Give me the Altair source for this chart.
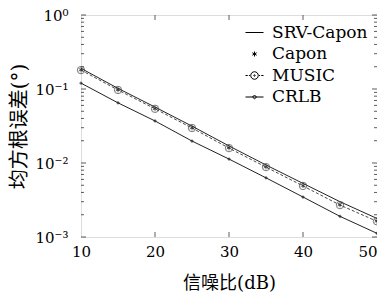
import altair as alt
import pandas as pd

snr = [10, 15, 20, 25, 30, 35, 40, 45, 50]
srv_capon = [0.19, 0.102, 0.057, 0.0315, 0.0170, 0.0094, 0.0053, 0.0030, 0.00178]
capon = [0.182, 0.098, 0.0545, 0.0300, 0.0161, 0.0089, 0.0050, 0.00275, 0.00165]
music = [0.180, 0.097, 0.054, 0.0297, 0.0159, 0.0088, 0.0049, 0.0027, 0.00163]
crlb = [0.120, 0.065, 0.037, 0.0198, 0.0113, 0.0063, 0.00347, 0.0019, 0.00112]
series = ["SRV-Capon", "Capon", "MUSIC", "CRLB"]
y_ticks = [0.001, 0.01, 0.1, 1]
x_ticks = [10, 20, 30, 40, 50]

W, H = 296, 222
SERIF = "DejaVu Serif"
CJK = "DejaVu Serif, Noto Sans CJK SC"

rows = []
for name, vals in zip(series, [srv_capon, capon, music, crlb]):
    for s, v in zip(snr, vals):
        rows.append({"snr": s, "rmse": v, "series": name})
df = pd.DataFrame(rows)

xs = alt.Scale(domain=[10, 50], nice=False, zero=False)
ys = alt.Scale(type="log", domain=[0.001, 1], nice=False)

x_axis = alt.Axis(
    title="信噪比(dB)", values=x_ticks, ticks=False, domain=False, grid=False,
    labelPadding=7, titlePadding=15, labelFont=SERIF, labelFontSize=15,
    titleFont=CJK, titleFontSize=18, titleFontWeight="normal",
    labelColor="black", titleColor="black", labelFlush=False, labelBound=False,
    labelAlign={"condition": {"test": "datum.value >= 50", "value": "right"}, "value": "center"})
y_axis = alt.Axis(
    title="均方根误差(°)", values=y_ticks, ticks=False, domain=False, grid=False,
    labelExpr="datum.value >= 1 ? '10⁰' : datum.value >= 0.1 ? '10⁻¹' : datum.value >= 0.01 ? '10⁻²' : '10⁻³'",
    labelPadding=13, titlePadding=5, labelFont=SERIF, labelFontSize=15,
    titleFont=CJK, titleFontSize=20, titleFontWeight="normal",
    labelColor="black", titleColor="black", labelBound=False)

X = alt.X("snr:Q", scale=xs, axis=x_axis)
Y = alt.Y("rmse:Q", scale=ys, axis=y_axis)

base = alt.Chart(df)

def sel(name):
    return base.transform_filter(alt.datum.series == name)

srv_line = sel("SRV-Capon").mark_line(color="#222", strokeWidth=1).encode(x=X, y=Y)
music_line = sel("MUSIC").mark_line(color="#333", strokeWidth=0.9, strokeDash=[3, 2]).encode(x=X, y=Y)
crlb_line = sel("CRLB").mark_line(color="#222", strokeWidth=1).encode(x=X, y=Y)

music_pts = sel("MUSIC").mark_point(shape="circle", size=55, color="#444", strokeWidth=1, filled=False).encode(x=X, y=Y)
music_dot = sel("MUSIC").mark_point(shape="circle", size=4, color="#444", filled=True).encode(x=X, y=Y)
capon_pts = sel("Capon").mark_point(
    shape="M0,-1L0,1M-0.87,-0.5L0.87,0.5M-0.87,0.5L0.87,-0.5",
    size=30, color="#222", strokeWidth=1, filled=False).encode(x=X, y=Y)
crlb_pts = sel("CRLB").mark_point(shape="diamond", size=14, color="#222", filled=True).encode(x=X, y=Y)

legend_paths = [
    "M-1,0L1,0",
    "M0,-0.28L0,0.28M-0.24,-0.14L0.24,0.14M-0.24,0.14L0.24,-0.14",
    "M-1,0L-0.75,0M-0.62,0L-0.5,0M0.5,0L0.62,0M0.75,0L1,0M0.42,0A0.42,0.42 0 1 1 -0.42,0A0.42,0.42 0 1 1 0.42,0M0.08,0A0.08,0.08 0 1 1 -0.08,0A0.08,0.08 0 1 1 0.08,0",
    "M-1,0L1,0M0,-0.22L0.22,0L0,0.22L-0.22,0Z",
]
legend_layer = base.mark_point(size=0, filled=False, color="black").encode(
    x=X, y=Y,
    shape=alt.Shape("series:N", scale=alt.Scale(domain=series, range=legend_paths),
                    legend=alt.Legend(
                        title=None, orient="none", legendX=164, legendY=8,
                        symbolSize=324, symbolStrokeWidth=1, symbolStrokeColor="black",
                        symbolFillColor="transparent", symbolOpacity=1,
                        labelFont=SERIF, labelFontSize=17, labelColor="black",
                        rowPadding=3.5, labelOffset=8, symbolType="stroke")))

def ytick(vals, length, right=False):
    d = pd.DataFrame({"rmse": vals})
    if right:
        enc = dict(x=alt.value(W), x2=alt.value(W - length))
    else:
        enc = dict(x=alt.value(0), x2=alt.value(length))
    return alt.Chart(d).mark_rule(color="#333", strokeWidth=0.8).encode(y=Y, **enc)

def xtick(vals, length, top=False):
    d = pd.DataFrame({"snr": vals})
    if top:
        enc = dict(y=alt.value(0), y2=alt.value(length))
    else:
        enc = dict(y=alt.value(H), y2=alt.value(H - length))
    return alt.Chart(d).mark_rule(color="#333", strokeWidth=0.8).encode(x=X, **enc)

minor = [m * 10 ** k for k in (-3, -2, -1) for m in range(2, 10)]
ticks = [ytick(y_ticks, 5), ytick(y_ticks, 5, True), ytick(minor, 3), ytick(minor, 3, True),
         xtick(x_ticks[1:-1], 5), xtick(x_ticks[1:-1], 5, True)]

chart = alt.layer(
    srv_line, legend_layer, *ticks, music_line, crlb_line, music_pts, music_dot, capon_pts, crlb_pts
).properties(
    width=W, height=H,
    autosize=alt.AutoSizeParams(type="none"),
    padding={"left": 73, "top": 7, "right": 0, "bottom": 55},
).configure_view(stroke="black", strokeWidth=1
).configure(background="white")

chart.save("out.html", embed_options={"renderer": "svg", "actions": False})
